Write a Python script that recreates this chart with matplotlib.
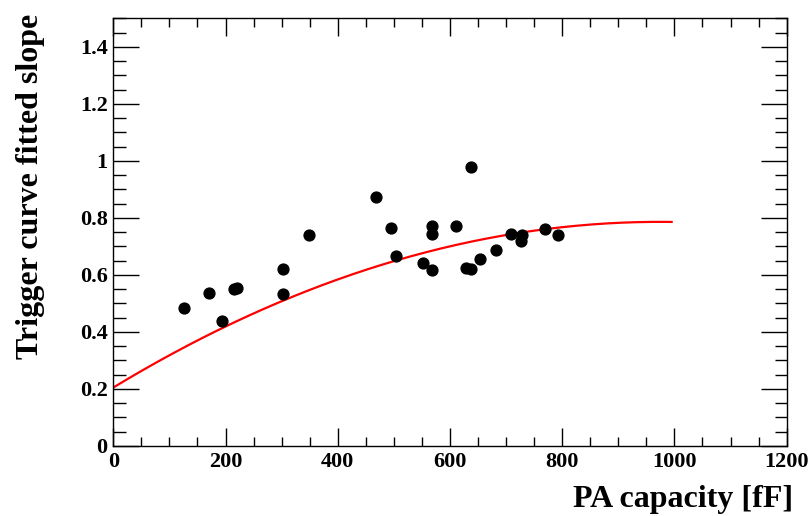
import matplotlib
matplotlib.use("Agg")
import matplotlib.pyplot as plt
import numpy as np
from matplotlib.ticker import MultipleLocator

# Data
capacity = [126, 171, 194, 215, 220, 303, 303, 349, 468, 495, 504, 552,
            568, 568, 568, 611, 629, 637, 638, 654, 682, 709, 727, 729, 770, 793]
slope = [0.483, 0.536, 0.437, 0.549, 0.554, 0.534, 0.619, 0.739, 0.872, 0.763,
         0.665, 0.641, 0.771, 0.743, 0.616, 0.772, 0.626, 0.977, 0.622, 0.655,
         0.688, 0.742, 0.720, 0.740, 0.760, 0.739]

# Quadratic fit parameters (p0 + p1*x + p2*x^2), fit range
fit_params = [0.205, 1.1924e-3, -6.117e-7]
fit_range = [0, 995]

plt.rcParams['font.family'] = ['Liberation Serif', 'DejaVu Serif']
plt.rcParams['font.weight'] = 'bold'

fig = plt.figure(figsize=(8.11, 5.16), dpi=100)
ax = fig.add_axes([0.1397, 0.1357, 0.9700 - 0.1397, 0.9645 - 0.1357])

xf = np.linspace(fit_range[0], fit_range[1], 300)
yf = fit_params[0] + fit_params[1] * xf + fit_params[2] * xf ** 2
ax.plot(xf, yf, color='#ff0000', lw=1.6, zorder=2)
ax.plot(capacity, slope, 'o', color='black', ms=7.8, zorder=3)

ax.set_xlim(0, 1200)
ax.set_ylim(0, 1.5)
ax.xaxis.set_major_locator(MultipleLocator(200))
ax.xaxis.set_minor_locator(MultipleLocator(50))
ax.yaxis.set_major_locator(MultipleLocator(0.2))
ax.yaxis.set_minor_locator(MultipleLocator(0.05))

ax.tick_params(which='both', direction='in', top=True, right=True, colors='black')
ax.tick_params(axis='x', which='major', length=13, width=1)
ax.tick_params(axis='x', which='minor', length=6.5, width=1)
ax.tick_params(axis='y', which='major', length=19, width=1)
ax.tick_params(axis='y', which='minor', length=9, width=1)
ax.tick_params(axis='both', which='major', labelsize=16, pad=4)

def fmt(v, pos):
    return '%g' % round(v, 6)
ax.xaxis.set_major_formatter(matplotlib.ticker.FuncFormatter(fmt))
ax.yaxis.set_major_formatter(matplotlib.ticker.FuncFormatter(fmt))
for lab in ax.get_xticklabels() + ax.get_yticklabels():
    lab.set_fontweight('bold')

for sp in ax.spines.values():
    sp.set_linewidth(1.0)

fig.text(0.978, 0.004, 'PA capacity [fF]', ha='right', va='bottom',
         fontsize=23, fontweight='bold')
fig.text(0.038, 0.973, 'Trigger curve fitted slope', ha='center', va='top',
         rotation=90, fontsize=23, fontweight='bold')

fig.savefig('out.png', dpi=100)
